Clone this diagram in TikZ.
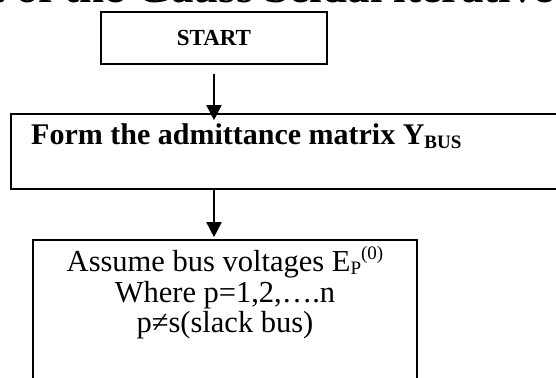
\documentclass[tikz,border=0pt]{standalone}
\usepackage{fontspec}
\setmainfont{Liberation Serif}
\usetikzlibrary{arrows.meta}
\begin{document}
\begin{tikzpicture}[x=1pt,y=-1pt,
  box/.style={draw,line width=1.6pt,inner sep=0pt},
  flow/.style={line width=1.6pt,-{Triangle[width=15pt,length=15pt]}},
  plain/.style={inner sep=0pt},
]
\useasboundingbox (0,0) rectangle (556,377);
\clip (0,0) rectangle (556,377);
\fill[white] (0,0) rectangle (556,377);
% heading line of the page, cut at the top
\node[plain,anchor=base west,font=\fontsize{45}{45}\selectfont\bfseries] (title)
  at (16,3) {\llap{Flow chart }of the Gauss Seidal iterative method};
% boxes
\node[box,minimum width=226pt,minimum height=52pt,
  font=\fontsize{23}{23}\selectfont\bfseries] (start) at (214,38) {START};
\node[box,minimum width=619pt,minimum height=75pt] (ybus) at (320.5,151.5) {};
\node[plain,anchor=base west,font=\fontsize{30}{30}\selectfont\bfseries] (ybustext)
  at (31,144) {Form the admittance matrix Y{\fontsize{19}{19}\selectfont\raisebox{-4pt}{BUS}}};
\node[box,minimum width=384pt,minimum height=170pt] (assume) at (225,325) {};
\node[plain,anchor=north,align=center,font=\fontsize{30.5}{27}\selectfont] (assumetext)
  at (225,246) {Assume bus voltages E\raisebox{-3pt}{\fontsize{19}{19}\selectfont P}\raisebox{12pt}{\fontsize{19}{19}\selectfont(0)}\\[2pt]
  Where p=1,2,….n\\[2pt] p≠s(slack bus)};
% connectors
\draw[flow] ([yshift=-9pt]start.south) -- ([yshift=-7pt]start.south |- ybus.north);
\draw[flow] (start.south |- ybus.south) -- ([yshift=2pt]start.south |- assume.north);
\end{tikzpicture}
\end{document}
